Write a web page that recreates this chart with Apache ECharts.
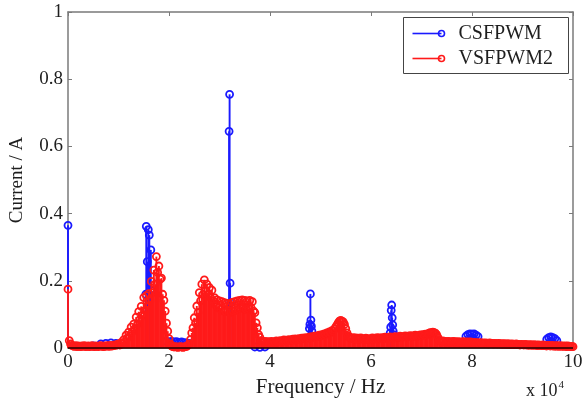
<!DOCTYPE html>
<html>
<head>
<meta charset="utf-8">
<script src="https://cdn.jsdelivr.net/npm/echarts@6/dist/echarts.min.js"></script>
<style>
html,body{margin:0;padding:0;background:#fff;}
#c{width:586px;height:403px;}
</style>
</head>
<body>
<div id="c"></div>
<script>
// ---- Data ----
var xTicks = ['0', '2', '4', '6', '8', '10'];
var yTicks = ['0', '0.2', '0.4', '0.6', '0.8', '1'];
var seriesNames = ['CSFPWM', 'VSFPWM2'];

// VSFPWM2 spectrum: FFT bins every 250 Hz, 0 .. 100000 Hz
var binStepHz = 250;
var redSeg0 = [0.175, 0.022, 0.012, 0.008, 0.006, 0.005, 0.007, 0.004, 0.006, 0.005, 0.004, 0.006, 0.005, 0.007, 0.004, 0.005, 0.006, 0.004, 0.005, 0.007, 0.005, 0.004, 0.006, 0.005, 0.004, 0.006, 0.007, 0.005, 0.004, 0.006, 0.005, 0.007, 0.006, 0.005, 0.008, 0.006, 0.007, 0.009, 0.008, 0.010];
var redSeg1 = [0.012, 0.009, 0.016, 0.012, 0.024, 0.018, 0.038, 0.030, 0.047, 0.036, 0.062, 0.048, 0.071, 0.058, 0.092, 0.070, 0.108, 0.085, 0.124, 0.098, 0.150, 0.112, 0.156, 0.125, 0.162, 0.140, 0.198, 0.165, 0.232, 0.190, 0.272, 0.225, 0.244, 0.205, 0.208, 0.160, 0.142, 0.110, 0.074, 0.050];
var redSeg2 = [0.028, 0.012, 0.006, 0.004, 0.003, 0.004, 0.003, 0.002, 0.003, 0.004, 0.003, 0.002, 0.003, 0.004, 0.005, 0.008, 0.012, 0.025, 0.045, 0.060, 0.090, 0.075, 0.125, 0.105, 0.165, 0.140, 0.190, 0.160, 0.203, 0.170, 0.190, 0.160, 0.180, 0.150, 0.172, 0.140, 0.150, 0.128, 0.143, 0.120];
var redSeg3 = [0.140, 0.115, 0.138, 0.110, 0.135, 0.108, 0.133, 0.112, 0.130, 0.105, 0.136, 0.110, 0.138, 0.112, 0.140, 0.115, 0.142, 0.118, 0.143, 0.120, 0.142, 0.115, 0.140, 0.118, 0.142, 0.120, 0.138, 0.110, 0.105, 0.075, 0.060, 0.040, 0.032, 0.022, 0.020, 0.018, 0.020, 0.017, 0.019, 0.018];
var redSeg4 = [0.016, 0.020, 0.015, 0.019, 0.017, 0.021, 0.018, 0.020, 0.022, 0.019, 0.021, 0.024, 0.020, 0.023, 0.021, 0.025, 0.022, 0.024, 0.026, 0.023, 0.027, 0.024, 0.026, 0.028, 0.025, 0.029, 0.027, 0.030, 0.028, 0.031, 0.029, 0.032, 0.030, 0.034, 0.031, 0.035, 0.033, 0.036, 0.034, 0.038];
var redSeg5 = [0.036, 0.040, 0.038, 0.042, 0.040, 0.045, 0.043, 0.048, 0.046, 0.052, 0.050, 0.056, 0.062, 0.068, 0.075, 0.080, 0.082, 0.080, 0.078, 0.070, 0.058, 0.045, 0.036, 0.032, 0.030, 0.028, 0.031, 0.027, 0.030, 0.026, 0.029, 0.027, 0.030, 0.026, 0.028, 0.025, 0.029, 0.026, 0.028, 0.025];
var redSeg6 = [0.027, 0.030, 0.026, 0.029, 0.027, 0.031, 0.028, 0.030, 0.027, 0.031, 0.029, 0.032, 0.028, 0.031, 0.030, 0.033, 0.029, 0.032, 0.031, 0.034, 0.030, 0.033, 0.032, 0.035, 0.031, 0.034, 0.033, 0.036, 0.032, 0.035, 0.034, 0.037, 0.033, 0.036, 0.035, 0.038, 0.034, 0.037, 0.036, 0.039];
var redSeg7 = [0.037, 0.040, 0.038, 0.041, 0.039, 0.042, 0.044, 0.046, 0.045, 0.047, 0.046, 0.044, 0.040, 0.032, 0.024, 0.020, 0.018, 0.021, 0.019, 0.020, 0.017, 0.020, 0.018, 0.019, 0.017, 0.020, 0.018, 0.019, 0.016, 0.019, 0.017, 0.018, 0.016, 0.019, 0.017, 0.018, 0.016, 0.018, 0.017, 0.018];
var redSeg8 = [0.016, 0.015, 0.017, 0.014, 0.016, 0.015, 0.013, 0.016, 0.014, 0.015, 0.013, 0.015, 0.014, 0.012, 0.015, 0.013, 0.014, 0.012, 0.014, 0.013, 0.012, 0.014, 0.012, 0.013, 0.011, 0.013, 0.012, 0.011, 0.013, 0.011, 0.012, 0.010, 0.012, 0.011, 0.010, 0.012, 0.010, 0.011, 0.009, 0.011];
var redSeg9 = [0.010, 0.009, 0.011, 0.009, 0.010, 0.008, 0.010, 0.009, 0.008, 0.010, 0.008, 0.009, 0.007, 0.009, 0.008, 0.007, 0.009, 0.007, 0.008, 0.006, 0.008, 0.007, 0.006, 0.008, 0.006, 0.007, 0.005, 0.007, 0.006, 0.005, 0.007, 0.005, 0.006, 0.005, 0.006, 0.004, 0.006, 0.005, 0.004, 0.005, 0.004];

// CSFPWM spectrum: discrete harmonics (Hz, A)
var blueFreq = [0, 5000, 6500, 7500, 8500, 9500, 15400, 15500, 15700, 15900, 16100, 16400, 16600, 19500, 20000, 20500, 21000, 21500, 22000, 22500, 23000, 23500, 24000, 37000, 38000, 39000, 31900, 32000, 32100, 32200, 47800, 47900, 48000, 48100, 48200, 48300, 63800, 63900, 64000, 64100, 64200, 64300, 64400, 64500, 78800, 79200, 79600, 80000, 80400, 80800, 81200, 94800, 95200, 95600, 96000, 96400, 96800];
var blueAmp  = [0.365, 0.006, 0.012, 0.014, 0.015, 0.014, 0.160, 0.362, 0.257, 0.352, 0.336, 0.292, 0.170, 0.020, 0.018, 0.020, 0.018, 0.019, 0.017, 0.018, 0.016, 0.015, 0.014, 0.003, 0.002, 0.003, 0.645, 0.755, 0.193, 0.135, 0.058, 0.070, 0.161, 0.083, 0.065, 0.050, 0.045, 0.062, 0.112, 0.128, 0.090, 0.069, 0.050, 0.040, 0.035, 0.040, 0.042, 0.041, 0.042, 0.038, 0.034, 0.026, 0.031, 0.033, 0.031, 0.028, 0.022];

// ---- Build ----
var redAmp = [].concat(redSeg0, redSeg1, redSeg2, redSeg3, redSeg4, redSeg5, redSeg6, redSeg7, redSeg8, redSeg9);
var redData = redAmp.map(function (v, i) { return [i * binStepHz, v]; });
var blueData = blueFreq.map(function (f, i) { return [f, blueAmp[i]]; });

var FONT = 'Liberation Serif';
var AXC = '#7a7a7a';
var TXT = '#1e1e1e';
var BLUE = '#1a1aff';
var RED = '#ff1a1a';

function stemRenderer(color) {
  return function (params, api) {
    var x = api.value(0), y = api.value(1);
    var p0 = api.coord([x, 0]);
    var p1 = api.coord([x, y]);
    return {
      type: 'group',
      children: [
        { type: 'line', shape: { x1: p0[0], y1: p0[1], x2: p1[0], y2: p1[1] },
          style: { stroke: color, lineWidth: 1.9 } },
        { type: 'circle', shape: { cx: p1[0], cy: p1[1], r: 3.5 },
          style: { fill: null, stroke: color, lineWidth: 1.8 } }
      ]
    };
  };
}

var chart = echarts.init(document.getElementById('c'), null, { renderer: 'canvas' });
chart.setOption({
  animation: false,
  backgroundColor: '#fff',
  grid: { left: 68, right: 13, top: 12, bottom: 55, containLabel: false },
  xAxis: [{
    type: 'value', min: 0, max: 100000, interval: 20000, position: 'bottom',
    name: 'Frequency / Hz', nameLocation: 'middle', nameGap: 25,
    nameTextStyle: { fontFamily: FONT, fontSize: 21, color: TXT },
    axisLine: { show: true, onZero: false, lineStyle: { color: AXC, width: 1.5 } },
    axisTick: { show: true, inside: true, length: 4, lineStyle: { color: AXC } },
    axisLabel: { fontFamily: FONT, fontSize: 19, color: TXT, margin: 5,
      formatter: function (v) { return xTicks[Math.round(v / 20000)]; } },
    splitLine: { show: false }
  }, {
    type: 'value', min: 0, max: 100000, interval: 20000, position: 'top',
    axisLine: { show: true, onZero: false, lineStyle: { color: AXC, width: 1.5 } },
    axisTick: { show: true, inside: true, length: 4, lineStyle: { color: AXC } },
    axisLabel: { show: false }, splitLine: { show: false }
  }],
  yAxis: [{
    type: 'value', min: 0, max: 1, interval: 0.2, position: 'left',
    name: 'Current / A', nameLocation: 'middle', nameGap: 41,
    nameTextStyle: { fontFamily: FONT, fontSize: 19, color: TXT },
    axisLine: { show: true, onZero: false, lineStyle: { color: AXC, width: 1.5 } },
    axisTick: { show: true, inside: true, length: 4, lineStyle: { color: AXC } },
    axisLabel: { fontFamily: FONT, fontSize: 19, color: TXT, margin: 5,
      formatter: function (v) { return yTicks[Math.round(v / 0.2)]; } },
    splitLine: { show: false }
  }, {
    type: 'value', min: 0, max: 1, interval: 0.2, position: 'right',
    axisLine: { show: true, onZero: false, lineStyle: { color: AXC, width: 1.5 } },
    axisTick: { show: true, inside: true, length: 4, lineStyle: { color: AXC } },
    axisLabel: { show: false }, splitLine: { show: false }
  }],
  series: [{
    name: seriesNames[0], type: 'custom', xAxisIndex: 0, yAxisIndex: 0,
    renderItem: stemRenderer(BLUE), data: blueData, encode: { x: 0, y: 1 }, z: 2, clip: false
  }, {
    name: seriesNames[1], type: 'custom', xAxisIndex: 0, yAxisIndex: 0,
    renderItem: stemRenderer(RED), data: redData, encode: { x: 0, y: 1 }, z: 3, clip: false,
    markLine: { silent: true, symbol: 'none', label: { show: false },
      lineStyle: { color: '#200', width: 1.5, type: 'solid' }, data: [{ yAxis: 0 }] }
  }],
  graphic: [{
    type: 'group', left: 403, top: 17, z: 100,
    children: [
      { type: 'rect', shape: { x: 0, y: 0, width: 165, height: 56 },
        style: { fill: '#fff', stroke: '#444', lineWidth: 1 } },
      { type: 'line', shape: { x1: 9, y1: 16, x2: 38, y2: 16 }, style: { stroke: BLUE, lineWidth: 1.6 } },
      { type: 'circle', shape: { cx: 38, cy: 16, r: 3 }, style: { fill: null, stroke: BLUE, lineWidth: 1.6 } },
      { type: 'text', x: 55, y: 16, style: { text: seriesNames[0], fontFamily: FONT, fontSize: 20, fill: TXT, verticalAlign: 'middle' } },
      { type: 'line', shape: { x1: 9, y1: 41, x2: 38, y2: 41 }, style: { stroke: RED, lineWidth: 1.6 } },
      { type: 'circle', shape: { cx: 38, cy: 41, r: 3 }, style: { fill: null, stroke: RED, lineWidth: 1.6 } },
      { type: 'text', x: 55, y: 41, style: { text: seriesNames[1], fontFamily: FONT, fontSize: 20, fill: TXT, verticalAlign: 'middle' } }
    ]
  }, {
    type: 'text', left: 526, top: 380, z: 100,
    style: {
      text: '{a|x 10}{b|4}',
      rich: {
        a: { fontFamily: FONT, fontSize: 18, fill: TXT, verticalAlign: 'bottom' },
        b: { fontFamily: FONT, fontSize: 11, fill: TXT, verticalAlign: 'top', padding: [0, 0, 9, 1] }
      }
    }
  }]
});
</script>
</body>
</html>
